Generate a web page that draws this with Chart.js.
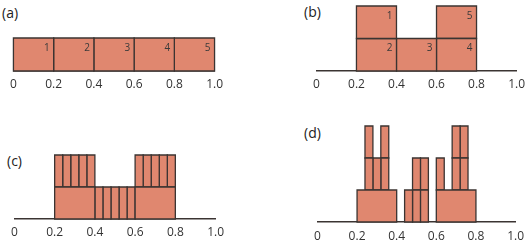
<!DOCTYPE html>
<html lang="en">
<head>
<meta charset="UTF-8">
<title>Cascade steps (a)-(d)</title>
<script src="https://cdn.jsdelivr.net/npm/chart.js"></script>
<style>
  body { margin: 0; width: 527px; height: 245px; position: relative; overflow: hidden; background: #fff; }
  canvas { position: absolute; }
  .tag { position: absolute; font-family: "Open Sans", sans-serif; font-size: 14px; line-height: 14px; color: #222; }
</style>
</head>
<body>
<div class="tag" style="left:2px;top:6px">(a)</div>
<div class="tag" style="left:304px;top:5px">(b)</div>
<div class="tag" style="left:7px;top:154px">(c)</div>
<div class="tag" style="left:304px;top:126px">(d)</div>

<canvas id="panelA" width="225" height="59" style="left:4px;top:34px"></canvas>
<canvas id="panelB" width="224" height="91" style="left:307px;top:2px"></canvas>
<canvas id="panelC" width="225" height="90" style="left:5px;top:151px"></canvas>
<canvas id="panelD" width="224" height="122" style="left:307px;top:122px"></canvas>

<script>
// x axis ticks (shared by all four panels)
const tickValues = [0, 0.2, 0.4, 0.6, 0.8, 1.0];
const tickLabels = ['0', '0.2', '0.4', '0.6', '0.8', '1.0'];

// each box: [x from, x to, level from, level to]
const rectsA = [[0, 0.2, 0, 1], [0.2, 0.4, 0, 1], [0.4, 0.6, 0, 1], [0.6, 0.8, 0, 1], [0.8, 1.0, 0, 1]];
const numbersA = ['1', '2', '3', '4', '5'];

const rectsB = [[0.2, 0.4, 1, 2], [0.2, 0.4, 0, 1], [0.4, 0.6, 0, 1], [0.6, 0.8, 0, 1], [0.6, 0.8, 1, 2]];
const numbersB = ['1', '2', '3', '4', '5'];

const rectsC = [
  [0.2, 0.4, 0, 1], [0.6, 0.8, 0, 1],
  [0.20, 0.24, 1, 2], [0.24, 0.28, 1, 2], [0.28, 0.32, 1, 2], [0.32, 0.36, 1, 2], [0.36, 0.40, 1, 2],
  [0.40, 0.44, 0, 1], [0.44, 0.48, 0, 1], [0.48, 0.52, 0, 1], [0.52, 0.56, 0, 1], [0.56, 0.60, 0, 1],
  [0.60, 0.64, 1, 2], [0.64, 0.68, 1, 2], [0.68, 0.72, 1, 2], [0.72, 0.76, 1, 2], [0.76, 0.80, 1, 2]
];

const rectsD = [
  [0.2, 0.4, 0, 1], [0.24, 0.28, 1, 2], [0.28, 0.32, 1, 2], [0.32, 0.36, 1, 2], [0.24, 0.28, 2, 3], [0.32, 0.36, 2, 3],
  [0.44, 0.48, 0, 1], [0.48, 0.52, 0, 1], [0.52, 0.56, 0, 1], [0.48, 0.52, 1, 2], [0.52, 0.56, 1, 2],
  [0.6, 0.8, 0, 1], [0.60, 0.64, 1, 2], [0.68, 0.72, 1, 2], [0.72, 0.76, 1, 2], [0.68, 0.72, 2, 3], [0.72, 0.76, 2, 3]
];

const fillColor = '#E0876F';
const lineColor = '#3b3432';

// small numbers in the top right corner of a box
const numberPlugin = {
  id: 'boxNumbers',
  afterDatasetsDraw(chart, args, opts) {
    if (!opts.numbers) return;
    const ctx = chart.ctx;
    const sx = chart.scales.x, sy = chart.scales.y;
    ctx.save();
    ctx.font = '10px "Open Sans", sans-serif';
    ctx.fillStyle = '#3a3a3a';
    ctx.textAlign = 'right';
    ctx.textBaseline = 'middle';
    opts.rects.forEach((r, i) => {
      const n = opts.numbers[i];
      if (!n) return;
      ctx.fillText(n, sx.getPixelForValue(r[1]) - 4, sy.getPixelForValue(r[3]) + 10);
    });
    ctx.restore();
  }
};

function makePanel(id, rects, numbers, levels, labelPad) {
  const datasets = rects.map(r => ({
    data: [
      {x: r[0], y: r[2]}, {x: r[1], y: r[2]}, {x: r[1], y: r[3]},
      {x: r[0], y: r[3]}, {x: r[0], y: r[2]}
    ],
    fill: 'shape',
    backgroundColor: fillColor,
    borderColor: lineColor,
    borderWidth: 1.3,
    borderJoinStyle: 'miter',
    borderCapStyle: 'square',
    pointRadius: 0,
    tension: 0,
    clip: false
  }));

  new Chart(document.getElementById(id), {
    type: 'line',
    data: { datasets: datasets },
    options: {
      responsive: false,
      animation: false,
      events: [],
      layout: { padding: { left: 8, right: 14, top: 4, bottom: 0 } },
      plugins: {
        legend: { display: false },
        tooltip: { enabled: false },
        boxNumbers: { rects: rects, numbers: numbers }
      },
      scales: {
        x: {
          type: 'linear',
          min: 0,
          max: 1,
          afterBuildTicks: s => { s.ticks = tickValues.map(v => ({ value: v })); },
          afterFit: s => { s.height = 22; },
          grid: { display: false, drawTicks: false },
          border: { display: true, color: lineColor, width: 1.4 },
          ticks: {
            padding: labelPad,
            color: '#333',
            font: { family: '"Open Sans", sans-serif', size: 12 },
            maxRotation: 0,
            autoSkip: false,
            callback: (v, i) => tickLabels[i]
          }
        },
        y: { type: 'linear', min: 0, max: levels, display: false }
      }
    },
    plugins: [numberPlugin]
  });
}

makePanel('panelA', rectsA, numbersA, 1, 6);
makePanel('panelB', rectsB, numbersB, 2, 6);
makePanel('panelC', rectsC, null, 2, 6);
makePanel('panelD', rectsD, null, 3, 7);
</script>
</body>
</html>
